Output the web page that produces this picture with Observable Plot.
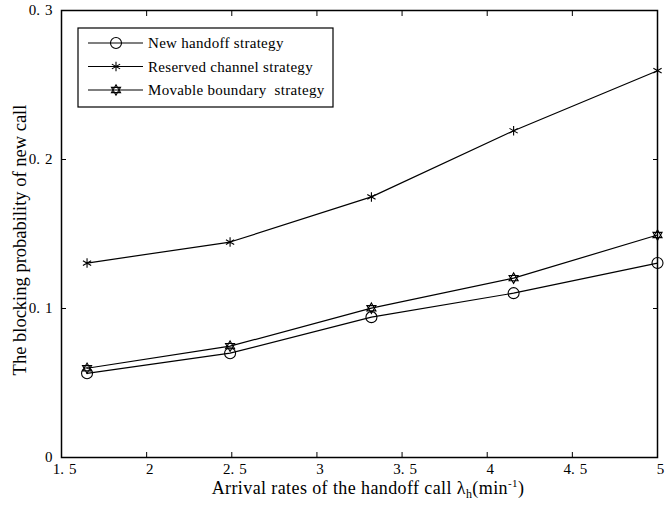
<!DOCTYPE html>
<html><head><meta charset="utf-8">
<script src="https://cdn.jsdelivr.net/npm/d3@7"></script>
<script src="https://cdn.jsdelivr.net/npm/@observablehq/plot@0.6"></script>
<style>body{margin:0;background:#fff;} svg{display:block;}</style>
</head><body><div id="chart"></div>
<script>
const lambda = [1.65, 2.49, 3.32, 4.155, 5.0];
const newHandoff = [0.0565, 0.070, 0.0942, 0.1103, 0.1305];
const reserved = [0.1305, 0.1446, 0.1749, 0.2193, 0.2596];
const movable = [0.0599, 0.0747, 0.1002, 0.1204, 0.1493];
const seriesNames = ["New handoff strategy", "Reserved channel strategy", "Movable boundary\u00a0 strategy"];
const xTicks = [1.5, 2, 2.5, 3, 3.5, 4, 4.5, 5];
const yTicks = [0, 0.1, 0.2, 0.3];
const xLabel = "Arrival rates of the handoff call";
const yLabel = "The blocking probability of new call";

const fmt = d => String(d).replace(".", ".\u2004");
const hexagram = {
  draw(ctx, size) {
    const R = Math.sqrt(size / Math.PI) * 1.05;
    for (const base of [-Math.PI / 2, Math.PI / 2]) {
      for (let i = 0; i < 3; i++) {
        const a = base + i * 2 * Math.PI / 3;
        const x = R * Math.cos(a), y = R * Math.sin(a);
        if (i === 0) ctx.moveTo(x, y); else ctx.lineTo(x, y);
      }
      ctx.closePath();
    }
  }
};
const symbols = ["circle", "asterisk", hexagram];
const radii = [5.5, 4.5, 5];
const all = [newHandoff, reserved, movable];
const data = all.flatMap((vals, s) => vals.map((v, i) => ({x: lambda[i], y: v, s})));

const font = "'Liberation Serif', 'Times New Roman', serif";
const marks = [
  Plot.axisX({ticks: xTicks, tickSize: 0, tickPadding: 6, dx: 3, tickFormat: fmt, label: null, fontSize: 15}),
  Plot.axisX({ticks: xTicks, tickSize: -5, tickFormat: () => "", label: null}),
  Plot.axisX({ticks: xTicks, anchor: "top", tickSize: -5, tickFormat: () => "", label: null}),
  Plot.axisY({ticks: yTicks, tickSize: 0, tickPadding: 9, tickFormat: d => d === 0 ? "0" : fmt(d), label: null, fontSize: 15}),
  Plot.axisY({ticks: yTicks, tickSize: -5, tickFormat: () => "", label: null}),
  Plot.axisY({ticks: yTicks, anchor: "right", tickSize: -5, tickFormat: () => "", label: null}),
];
all.forEach((vals, s) => {
  const d = data.filter(p => p.s === s);
  marks.push(Plot.line(d, {x: "x", y: "y", stroke: "black", strokeWidth: 1.2}));
  marks.push(Plot.dot(d, {x: "x", y: "y", symbol: () => symbols[s], r: radii[s], stroke: "black", fill: "none", strokeWidth: 1.1}));
});
marks.push(Plot.frame({stroke: "black", strokeWidth: 1.5}));

const chart = Plot.plot({
  width: 667, height: 508,
  marginLeft: 61, marginRight: 10, marginTop: 10, marginBottom: 51,
  x: {domain: [1.5, 5]},
  y: {domain: [0, 0.3]},
  style: {fontFamily: font, color: "black", background: "white"},
  marks
});
document.getElementById("chart").appendChild(chart);

const svg = d3.select(chart);
// axis labels
const xl = svg.append("text").attr("x", 368).attr("y", 494).attr("text-anchor", "middle")
  .attr("font-family", font).attr("font-size", 18).attr("letter-spacing", 0.4).attr("fill", "black");
xl.append("tspan").text(xLabel + " λ");
xl.append("tspan").attr("font-size", 12).attr("dy", 4).text("h");
xl.append("tspan").attr("dy", -4).text("(min");
xl.append("tspan").attr("font-size", 11).attr("dy", -7).text("-1");
xl.append("tspan").attr("dy", 7).text(")");
svg.append("text").attr("transform", "translate(20,240) rotate(-90)").attr("text-anchor", "middle")
  .attr("dy", "0.35em").attr("font-family", font).attr("font-size", 18.5).attr("fill", "black").text(yLabel);

// legend
const lg = svg.append("g");
lg.append("rect").attr("x", 78).attr("y", 28).attr("width", 255).attr("height", 79)
  .attr("fill", "white").attr("stroke", "black").attr("stroke-width", 1.2);
seriesNames.forEach((name, s) => {
  const y = 43 + s * 23.5;
  lg.append("line").attr("x1", 88).attr("x2", 143).attr("y1", y).attr("y2", y).attr("stroke", "black").attr("stroke-width", 1.2);
  const sym = d3.symbol(symbols[s] === "circle" ? d3.symbolCircle : symbols[s] === "asterisk" ? d3.symbolAsterisk : hexagram, Math.PI * radii[s] * radii[s]);
  lg.append("path").attr("d", sym()).attr("transform", `translate(116,${y})`).attr("fill", "none").attr("stroke", "black").attr("stroke-width", 1.1);
  lg.append("text").attr("x", 148).attr("y", y).attr("dy", "0.35em").attr("text-anchor", "start")
    .attr("font-family", font).attr("font-size", 15).attr("letter-spacing", 0.3).attr("fill", "black").text(name);
});
</script></body></html>
